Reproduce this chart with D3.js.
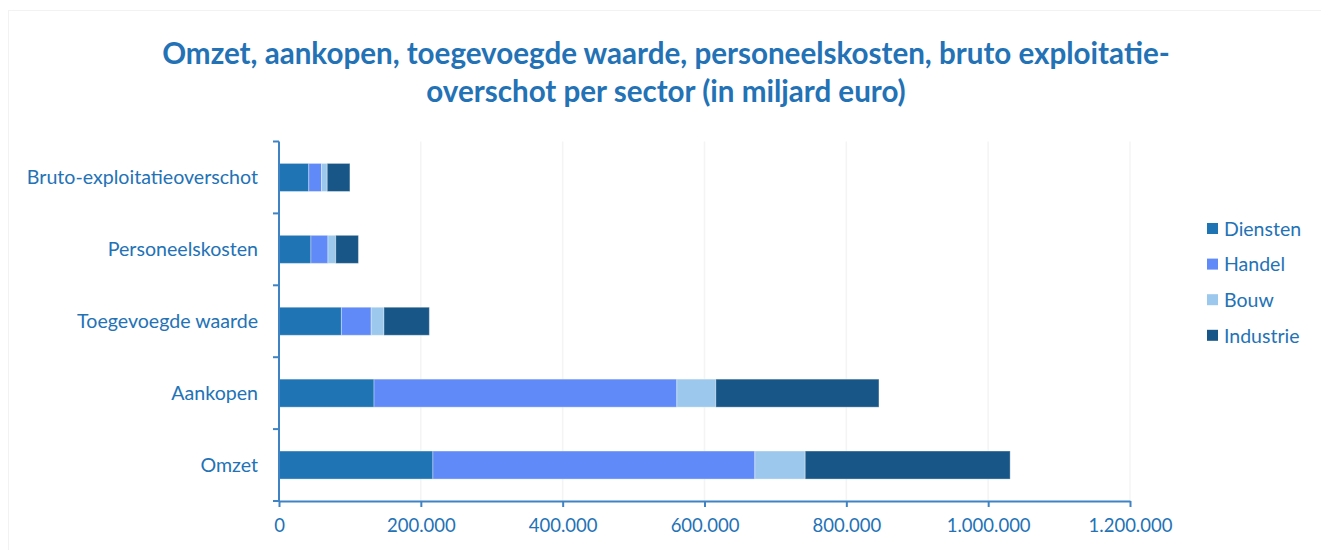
<!DOCTYPE html>
<html>
<head>
<meta charset="utf-8">
<script src="https://cdn.jsdelivr.net/npm/d3@7"></script>
<style>
  body { margin: 0; background: #fff; }
  text { font-family: Lato, "Open Sans", sans-serif; }
</style>
</head>
<body>
<div id="chart"></div>
<script>
var width = 1321, height = 550;

// data (values in miljoen euro)
var categories = ["Bruto-exploitatieoverschot", "Personeelskosten", "Toegevoegde waarde", "Aankopen", "Omzet"];
var sectors = ["Diensten", "Handel", "Bouw", "Industrie"];
var diensten  = [42000, 45000, 88000, 134000, 217000];
var handel    = [18000, 24000, 42000, 427000, 454000];
var bouw      = [8000, 11000, 18000, 55000, 71000];
var industrie = [32000, 32000, 64000, 230000, 289000];
var xTicks = [0, 200000, 400000, 600000, 800000, 1000000, 1200000];
var colors = ["#1f74b4", "#608af7", "#9bc8ec", "#175686"];

var textColor = "#2372b6";
var axisColor = "#3f83c4";

var rows = categories.map(function(c, i){
    return {cat: c, Diensten: diensten[i], Handel: handel[i], Bouw: bouw[i], Industrie: industrie[i]};
});
var stacked = d3.stack().keys(sectors)(rows);

var margin = {top: 141.5, left: 279, right: 191, bottom: 49};

var svg = d3.select("#chart")
    .append("svg")
    .attr("width", width)
    .attr("height", height);

// light frame of the chart area
svg.append("rect")
    .attr("x", 8.5)
    .attr("y", 10.5)
    .attr("width", width + 20)
    .attr("height", height + 20)
    .attr("fill", "#fff")
    .attr("stroke", "#f2f2f2")
    .attr("stroke-width", 1);

var x = d3.scaleLinear()
    .domain([0, 1200000])
    .range([margin.left, width - margin.right]);

var y = d3.scaleBand()
    .domain(categories)
    .range([margin.top, height - margin.bottom])
    .padding(0);

var nl = d3.formatLocale({decimal: ",", thousands: ".", grouping: [3], currency: ["€", ""]});
var fmt = nl.format(",.0f");

// title
var title = svg.append("g");
var titleLines = ["Omzet, aankopen, toegevoegde waarde, personeelskosten, bruto exploitatie-",
                  "overschot per sector (in miljard euro)"];
title.selectAll("text")
    .data(titleLines)
    .enter().append("text")
    .attr("x", 666)
    .attr("y", function(d, i){ return 64 + i * 38; })
    .attr("text-anchor", "middle")
    .attr("fill", textColor)
    .attr("font-weight", "bold")
    .attr("font-size", 26)
    .text(function(d){ return d; });
// fit first line to its width in the reference
var t0 = title.select("text").node().getComputedTextLength();
var titleSize = 26 * 1008 / t0;
title.selectAll("text").attr("font-size", titleSize);

// gridlines
svg.append("g")
    .selectAll("line")
    .data(xTicks.slice(1))
    .enter().append("line")
    .attr("x1", function(d){ return x(d); })
    .attr("x2", function(d){ return x(d); })
    .attr("y1", margin.top)
    .attr("y2", height - margin.bottom)
    .attr("stroke", "#f4f4f4")
    .attr("stroke-width", 1.5);

// bars
var barH = y.bandwidth() * 0.39;
svg.append("g")
    .selectAll("g")
    .data(stacked)
    .enter().append("g")
    .attr("fill", function(d, i){ return colors[i]; })
    .selectAll("rect")
    .data(function(d){ return d; })
    .enter().append("rect")
    .attr("x", function(d){ return x(d[0]); })
    .attr("width", function(d){ return x(d[1]) - x(d[0]); })
    .attr("y", function(d){ return y(d.data.cat) + (y.bandwidth() - barH) / 2; })
    .attr("height", barH)
    .attr("stroke", "rgba(255,255,255,0.35)")
    .attr("stroke-width", 1);

// x axis
var xAxis = svg.append("g")
    .attr("transform", "translate(0," + (height - margin.bottom) + ")")
    .call(d3.axisBottom(x).tickValues(xTicks).tickSize(6).tickSizeOuter(0).tickFormat(fmt));
xAxis.select(".domain").attr("stroke", axisColor).attr("stroke-width", 2);
xAxis.selectAll(".tick line").attr("stroke", axisColor).attr("stroke-width", 2);
xAxis.selectAll(".tick text")
    .attr("fill", textColor)
    .attr("font-size", 18.5)
    .attr("dy", "0.71em")
    .attr("y", 18)
    .style("font-family", "Lato, 'Open Sans', sans-serif");

// y axis: line, boundary ticks and labels
var yAxis = svg.append("g");
yAxis.append("line")
    .attr("x1", margin.left).attr("x2", margin.left)
    .attr("y1", margin.top).attr("y2", height - margin.bottom)
    .attr("stroke", axisColor).attr("stroke-width", 2);
var bounds = categories.map(function(c){ return y(c); }).concat([y(categories[categories.length - 1]) + y.bandwidth()]);
yAxis.selectAll(".ytick")
    .data(bounds)
    .enter().append("line")
    .attr("class", "ytick")
    .attr("x1", margin.left - 6).attr("x2", margin.left)
    .attr("y1", function(d){ return d; }).attr("y2", function(d){ return d; })
    .attr("stroke", axisColor).attr("stroke-width", 2);
yAxis.selectAll(".ylabel")
    .data(categories)
    .enter().append("text")
    .attr("class", "ylabel")
    .attr("x", 258)
    .attr("y", function(d){ return y(d) + y.bandwidth() / 2; })
    .attr("dy", "0.35em")
    .attr("text-anchor", "end")
    .attr("fill", textColor)
    .attr("font-size", 19.6)
    .text(function(d){ return d; });

// legend
var legend = svg.append("g")
    .attr("transform", "translate(1207,229)");
var item = legend.selectAll("g")
    .data(sectors)
    .enter().append("g")
    .attr("transform", function(d, i){ return "translate(0," + (i * 35.6) + ")"; });
item.append("rect")
    .attr("x", 0).attr("y", -6)
    .attr("width", 11).attr("height", 11)
    .attr("fill", function(d, i){ return colors[i]; });
item.append("text")
    .attr("x", 17)
    .attr("y", 0)
    .attr("dy", "0.35em")
    .attr("fill", textColor)
    .attr("font-size", 19.5)
    .text(function(d){ return d; });
</script>
</body>
</html>
